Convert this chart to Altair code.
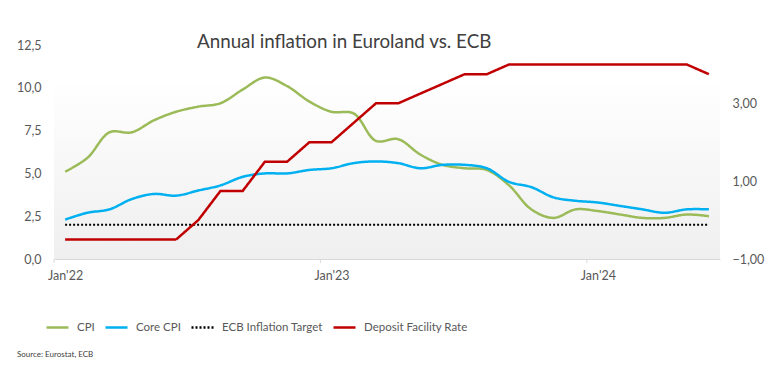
import altair as alt
import pandas as pd

# ---- data (monthly, Jan 2022 .. Jun 2024) ----
month_idx = list(range(30))
cpi = [5.1, 5.9, 7.4, 7.4, 8.1, 8.6, 8.9, 9.1, 9.9, 10.6, 10.1, 9.2,
       8.6, 8.5, 6.9, 7.0, 6.1, 5.5, 5.3, 5.2, 4.3, 2.9, 2.4, 2.9,
       2.8, 2.6, 2.4, 2.4, 2.6, 2.5]
core_cpi = [2.3, 2.7, 2.9, 3.5, 3.8, 3.7, 4.0, 4.3, 4.8, 5.0, 5.0, 5.2,
            5.3, 5.6, 5.7, 5.6, 5.3, 5.5, 5.5, 5.3, 4.5, 4.2, 3.6, 3.4,
            3.3, 3.1, 2.9, 2.7, 2.9, 2.9]
ecb_target = [2.0] * 30
deposit_rate = [-0.5, -0.5, -0.5, -0.5, -0.5, -0.5, 0.0, 0.75, 0.75, 1.5, 1.5, 2.0,
                2.0, 2.5, 3.0, 3.0, 3.25, 3.5, 3.75, 3.75, 4.0, 4.0, 4.0, 4.0,
                4.0, 4.0, 4.0, 4.0, 4.0, 3.75]
x_label_pos = [0, 12, 24]
x_labels = ["Jan'22", "Jan'23", "Jan'24"]
x_tick_pos = [-0.5, 11.5, 23.5]
left_ticks = [0, 2.5, 5, 7.5, 10, 12.5]
right_ticks = [-1, 1, 3]
series_names = ["CPI", "Core CPI", "ECB Inflation Target", "Deposit Facility Rate"]
series_colors = ["#9BBB59", "#00B0F0", "#000000", "#C00000"]
title_text = "Annual inflation in Euroland vs. ECB"
source_text = "Source: Eurostat, ECB"

W, H = 666, 214
TXT = "#595959"
FONT = "Lato"

smooth_df = pd.DataFrame({
    "i": month_idx * 2,
    "v": cpi + core_cpi,
    "series": ["CPI"] * 30 + ["Core CPI"] * 30,
})
target_df = pd.DataFrame({"i": month_idx, "v": ecb_target, "series": ["ECB Inflation Target"] * 30})
rate_df = pd.DataFrame({"i": month_idx, "v": deposit_rate, "series": ["Deposit Facility Rate"] * 30})
tick_df = pd.DataFrame({"t": x_tick_pos})

label_map = "{" + ",".join(f"'{p}':\"{l}\"" for p, l in zip(x_label_pos, x_labels)) + "}"

x_scale = alt.Scale(domain=[-0.5, 29.5], nice=False, zero=False)
x_axis = alt.Axis(values=x_label_pos, labelExpr=f"{label_map}[datum.value]", ticks=False,
                  grid=False, domain=True, domainColor="#d9d9d9", domainWidth=1,
                  labelFont=FONT, labelFontSize=12.5, labelColor=TXT, labelPadding=10,
                  title=None, labelFlush=False)

legend = alt.Legend(orient="none", legendX=-9, legendY=270, direction="horizontal",
                    title=None, symbolType="stroke", symbolSize=484, symbolStrokeWidth=2.5,
                    labelFont=FONT, labelFontSize=11.5, labelColor=TXT,
                    labelOffset=7, columnPadding=5, values=series_names)
color_enc = alt.Color("series:N", scale=alt.Scale(domain=series_names, range=series_colors), legend=legend)
dash_enc = alt.StrokeDash("series:N", scale=alt.Scale(domain=series_names,
                                                     range=[[1, 0], [1, 0], [2, 2], [1, 0]]), legend=legend)

left_scale = alt.Scale(domain=[0, 12.5], nice=False, zero=False)
left_axis = alt.Axis(values=left_ticks, labelExpr="replace(format(datum.value, '.1f'), '.', ',')",
                     ticks=False, domain=False, grid=False, labelFont=FONT, labelFontSize=12.5,
                     labelColor=TXT, labelPadding=13, title=None)

right_scale = alt.Scale(domain=[-1, 4.5], nice=False, zero=False)
right_axis = alt.Axis(values=right_ticks, labelExpr="replace(format(datum.value, '.2f'), '.', ',')",
                      orient="right", ticks=False, domain=False, grid=False, labelFont=FONT,
                      labelFontSize=12.5, labelColor=TXT, labelPadding=12, title=None)

bg = alt.Chart(alt.Data(values=[{"a": 1}])).mark_rect(
    color=alt.Gradient(gradient="linear",
                       stops=[alt.GradientStop(color="#ffffff", offset=0),
                              alt.GradientStop(color="#efefef", offset=1)],
                       x1=0, x2=0, y1=0, y2=1)
).encode(x=alt.value(0), x2=alt.value(W), y=alt.value(35), y2=alt.value(H))

ticks = alt.Chart(tick_df).mark_rule(color="#d9d9d9", strokeWidth=1).encode(
    x=alt.X("t:Q", scale=x_scale, axis=x_axis),
    y=alt.value(H), y2=alt.value(H + 4))

smooth = alt.Chart(smooth_df).mark_line(interpolate="catmull-rom", strokeWidth=2.5).encode(
    x=alt.X("i:Q", scale=x_scale, axis=x_axis),
    y=alt.Y("v:Q", scale=left_scale, axis=left_axis),
    color=color_enc, strokeDash=dash_enc, detail="series:N")

target = alt.Chart(target_df).mark_line(strokeWidth=2).encode(
    x=alt.X("i:Q", scale=x_scale, axis=x_axis),
    y=alt.Y("v:Q", scale=left_scale, axis=left_axis),
    color=color_enc, strokeDash=dash_enc)

title_mark = alt.Chart(alt.Data(values=[{"t": title_text}])).mark_text(
    align="left", baseline="alphabetic", font=FONT, fontSize=18.8, color="#404040"
).encode(x=alt.value(143), y=alt.value(3), text="t:N")

source_mark = alt.Chart(alt.Data(values=[{"t": source_text}])).mark_text(
    align="left", baseline="alphabetic", font=FONT, fontSize=8, color="#404040"
).encode(x=alt.value(-37), y=alt.value(312), text="t:N")

rate = alt.Chart(rate_df).mark_line(strokeWidth=2.5).encode(
    x=alt.X("i:Q", scale=x_scale, axis=x_axis),
    y=alt.Y("v:Q", scale=right_scale, axis=right_axis),
    color=color_enc, strokeDash=dash_enc)

left_group = alt.layer(bg, ticks, target, smooth, title_mark, source_mark)
chart = alt.layer(left_group, rate).resolve_scale(y="independent").properties(
    width=W, height=H,
    padding={"left": 46, "top": 37, "right": 55, "bottom": 113},
    autosize="none",
).configure_view(stroke=None)

chart.save("out.html", embed_options={"renderer": "svg", "actions": False})
